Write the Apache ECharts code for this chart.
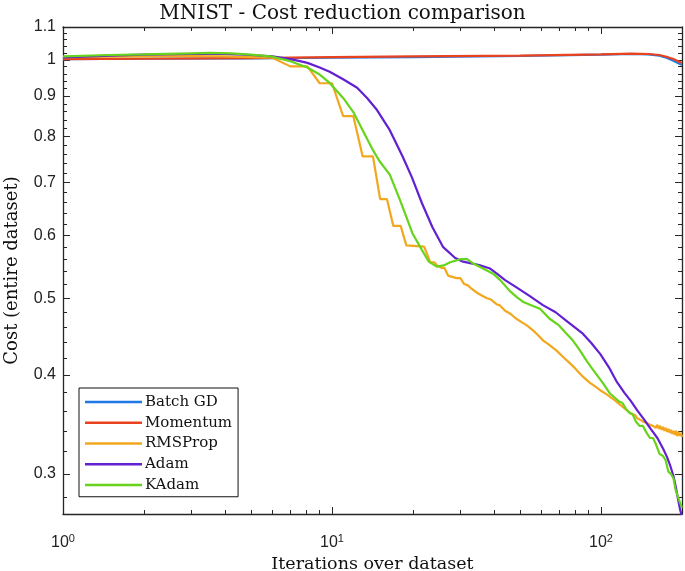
<!DOCTYPE html>
<html>
<head>
<meta charset="utf-8">
<script src="https://cdn.jsdelivr.net/npm/echarts@6/dist/echarts.min.js"></script>
<style>
html,body{margin:0;padding:0;background:#fff;}
#chart{width:685px;height:571px;}
</style>
</head>
<body>
<div id="chart"></div>
<script>
// ---- data (iterations over dataset, cost) ----
const seriesNames = ['Batch GD', 'Momentum', 'RMSProp', 'Adam', 'KAdam'];

const batchGD = [[1,1.002],[2,1.003],[5,1.004],[10,1.006],[20,1.008],[50,1.011],[100,1.015],[130,1.017],[150,1.016],[165,1.012],[175,1.006],[185,0.998],[200,0.985]];

const momentum = [[1,1.002],[2,1.003],[5,1.005],[10,1.008],[20,1.010],[50,1.012],[100,1.016],[130,1.018],[150,1.017],[165,1.014],[175,1.009],[185,1.003],[200,0.991]];

const rmsprop = [[1,1.008],[2,1.010],[3,1.011],[4,1.010],[5,1.008],[6,1.006],[7,0.981],[8.1,0.981],[9,0.934],[10,0.934],[11,0.849],[12,0.849],[13,0.755],[14.2,0.755],[15.1,0.667],[16,0.667],[16.9,0.617],[18,0.617],[18.9,0.583],[22,0.581],[23.2,0.555],[24,0.555],[24.6,0.550],[25.6,0.546],[26.2,0.546],[27,0.534],[29,0.530],[30,0.530],[31,0.521],[32,0.519],[33,0.514],[34.6,0.508],[36,0.504],[37.7,0.500],[39,0.498],[41,0.491],[42,0.490],[44,0.482],[46,0.478],[48,0.472],[50.8,0.466],[53,0.462],[56,0.455],[58,0.450],[61,0.442],[64,0.437],[68,0.430],[72,0.422],[76.5,0.414],[80,0.408],[85.6,0.398],[91,0.391],[96,0.386],[100,0.382],[105,0.378],[112,0.372],[121,0.364],[126,0.360],[130,0.357],[132,0.355],[134,0.356],[136,0.353],[138,0.355],[140,0.351],[142,0.353],[144,0.349],[146,0.351],[148,0.348],[150,0.350],[152,0.346],[154,0.348],[156,0.345],[158,0.347],[160,0.343],[162,0.346],[164,0.342],[166,0.345],[168,0.341],[170,0.344],[172,0.340],[174,0.343],[176,0.339],[178,0.342],[180,0.338],[182,0.341],[184,0.337],[186,0.340],[188,0.336],[190,0.340],[192,0.335],[194,0.339],[196,0.335],[198,0.338],[200,0.334]];

const adam = [[1,1.007],[1.5,1.012],[2,1.015],[3,1.017],[4,1.017],[5,1.014],[6,1.010],[7,1.002],[7.6,0.996],[8.1,0.991],[9,0.978],[9.8,0.966],[11,0.945],[12.4,0.922],[13.5,0.895],[14.7,0.864],[16.4,0.815],[18.3,0.755],[19.8,0.711],[21.6,0.659],[23.6,0.615],[25.9,0.580],[28.7,0.562],[30.7,0.556],[33.3,0.553],[35.5,0.550],[38.7,0.545],[41,0.537],[44,0.527],[48.5,0.516],[54.4,0.503],[60.8,0.490],[67.8,0.480],[75,0.467],[85.6,0.451],[92,0.439],[99.4,0.425],[107,0.409],[114,0.393],[122,0.380],[129,0.371],[137,0.360],[144,0.352],[153,0.342],[162,0.333],[170,0.323],[176,0.315],[181,0.307],[186,0.298],[190,0.288],[194,0.277],[197,0.270],[200,0.265]];

const kadam = [[1,1.010],[1.5,1.014],[2,1.016],[3,1.019],[3.5,1.020],[4.2,1.019],[5,1.015],[6,1.009],[7,0.996],[8.1,0.978],[9,0.958],[9.8,0.935],[11,0.895],[12,0.859],[13,0.815],[14.2,0.769],[15,0.745],[16.4,0.716],[17.9,0.665],[19.9,0.604],[21.6,0.575],[22.9,0.556],[24.5,0.548],[26,0.550],[27.5,0.555],[30,0.560],[31.8,0.560],[33.5,0.553],[36.4,0.545],[39.7,0.537],[42.2,0.527],[46,0.510],[48.5,0.502],[51.2,0.495],[55,0.490],[59.3,0.485],[64.4,0.471],[69.8,0.462],[74,0.452],[78.6,0.442],[83,0.431],[88.3,0.417],[92,0.409],[96,0.401],[102,0.390],[108,0.379],[114,0.373],[117,0.370],[120,0.369],[124,0.362],[128,0.358],[131,0.357],[135,0.349],[139,0.345],[143,0.345],[147,0.339],[152,0.333],[156,0.333],[160,0.327],[165,0.318],[170,0.316],[174,0.312],[178,0.302],[182,0.300],[186,0.296],[189,0.287],[192,0.286],[195,0.278],[198,0.277],[200,0.272]];

const seriesData = [batchGD, momentum, rmsprop, adam, kadam];
const seriesColors = ['#1f78e6', '#e8431e', '#f2a71f', '#6220d2', '#66d41c'];

// ---- axes ----
const xMin = 1, xMax = 200;
const yMin = 0.267, yMax = 1.1;
const xMajorTicks = [1, 10, 100];
const xMinorTicks = [2,3,4,5,6,7,8,9,20,30,40,50,60,70,80,90,200];
const yMajorTicks = [0.3,0.4,0.5,0.6,0.7,0.8,0.9,1,1.1];
const yTickLabels = ['0.3','0.4','0.5','0.6','0.7','0.8','0.9','1','1.1'];
const yMinorTicks = [0.28,0.32,0.34,0.36,0.38,0.42,0.44,0.46,0.48,0.52,0.54,0.56,0.58,0.62,0.64,0.66,0.68,0.72,0.74,0.76,0.78,0.82,0.84,0.86,0.88,0.92,0.94,0.96,0.98,1.02,1.04,1.06,1.08];

const axisColor = '#262626';
const sans = 'Liberation Sans';
const serif = 'DejaVu Serif';

function xAx(pos, ticks, len, showLine, showLabel) {
  return {
    type: 'log', logBase: 10, min: xMin, max: xMax, position: pos,
    axisLine: {show: showLine, onZero: false, lineStyle: {color: axisColor, width: 1.3}},
    axisTick: {show: true, inside: true, length: len, customValues: ticks, lineStyle: {color: axisColor, width: 1}},
    axisLabel: showLabel ? {
      show: true, customValues: xMajorTicks, margin: 19,
      formatter: v => '{b|10}{s|' + Math.round(Math.log10(v)) + '}',
      rich: {
        b: {fontFamily: sans, fontSize: 16, color: '#222'},
        s: {fontFamily: sans, fontSize: 11, color: '#222', verticalAlign: 'bottom', padding: [0,0,9,0]}
      }
    } : {show: false},
    splitLine: {show: false}, minorTick: {show: false}, minorSplitLine: {show: false}
  };
}
function yAx(pos, ticks, len, showLine, showLabel) {
  return {
    type: 'log', logBase: 10, min: yMin, max: yMax, position: pos,
    axisLine: {show: showLine, onZero: false, lineStyle: {color: axisColor, width: 1.3}},
    axisTick: {show: true, inside: true, length: len, customValues: ticks, lineStyle: {color: axisColor, width: 1}},
    axisLabel: showLabel ? {
      show: true, customValues: yMajorTicks, margin: 7,
      fontFamily: sans, fontSize: 16, color: '#222',
      formatter: v => { const i = yMajorTicks.findIndex(t => Math.abs(t - v) < 1e-6); return i >= 0 ? yTickLabels[i] : ''; }
    } : {show: false},
    splitLine: {show: false}, minorTick: {show: false}, minorSplitLine: {show: false}
  };
}

const xAxes = [
  xAx('bottom', xMajorTicks, 7, true, true),
  xAx('bottom', xMinorTicks, 4, false, false),
  xAx('top', xMajorTicks, 7, true, false),
  xAx('top', xMinorTicks, 4, false, false)
];
xAxes[0].name = 'Iterations over dataset';
xAxes[0].nameLocation = 'middle';
xAxes[0].nameGap = 38;
xAxes[0].nameTextStyle = {fontFamily: serif, fontSize: 17.5, color: '#111'};

const yAxes = [
  yAx('left', yMajorTicks, 7, true, true),
  yAx('left', yMinorTicks, 4, false, false),
  yAx('right', yMajorTicks, 7, true, false),
  yAx('right', yMinorTicks, 4, false, false)
];
yAxes[0].name = 'Cost (entire dataset)';
yAxes[0].nameLocation = 'middle';
yAxes[0].nameGap = 42;
yAxes[0].nameTextStyle = {fontFamily: serif, fontSize: 18, color: '#111'};

const chart = echarts.init(document.getElementById('chart'), null, {renderer: 'canvas'});
chart.setOption({
  animation: false,
  backgroundColor: '#fff',
  title: {
    text: 'MNIST - Cost reduction comparison', left: 'center', top: -1,
    textStyle: {fontFamily: serif, fontSize: 20, fontWeight: 'normal', color: '#111'}
  },
  grid: {left: 63, right: 3, top: 27, bottom: 57, containLabel: false, outerBoundsMode: 'none'},
  legend: {
    orient: 'vertical', left: 79, top: 388,
    data: seriesNames,
    icon: 'rect',
    itemWidth: 57, itemHeight: 2.5, itemGap: 0,
    padding: [3.5, 6, 1.5, 6],
    borderColor: '#111', borderWidth: 1, borderRadius: 0, backgroundColor: '#fff',
    textStyle: {fontFamily: serif, fontSize: 15, color: '#111', lineHeight: 20.75, padding: [0,0,0,-2]}
  },
  xAxis: xAxes,
  yAxis: yAxes,
  series: seriesNames.map((n, i) => ({
    name: n, type: 'line', data: seriesData[i], xAxisIndex: 0, yAxisIndex: 0,
    symbol: 'none', smooth: false, color: seriesColors[i],
    lineStyle: {color: seriesColors[i], width: 2.2}
  }))
});
</script>
</body>
</html>
